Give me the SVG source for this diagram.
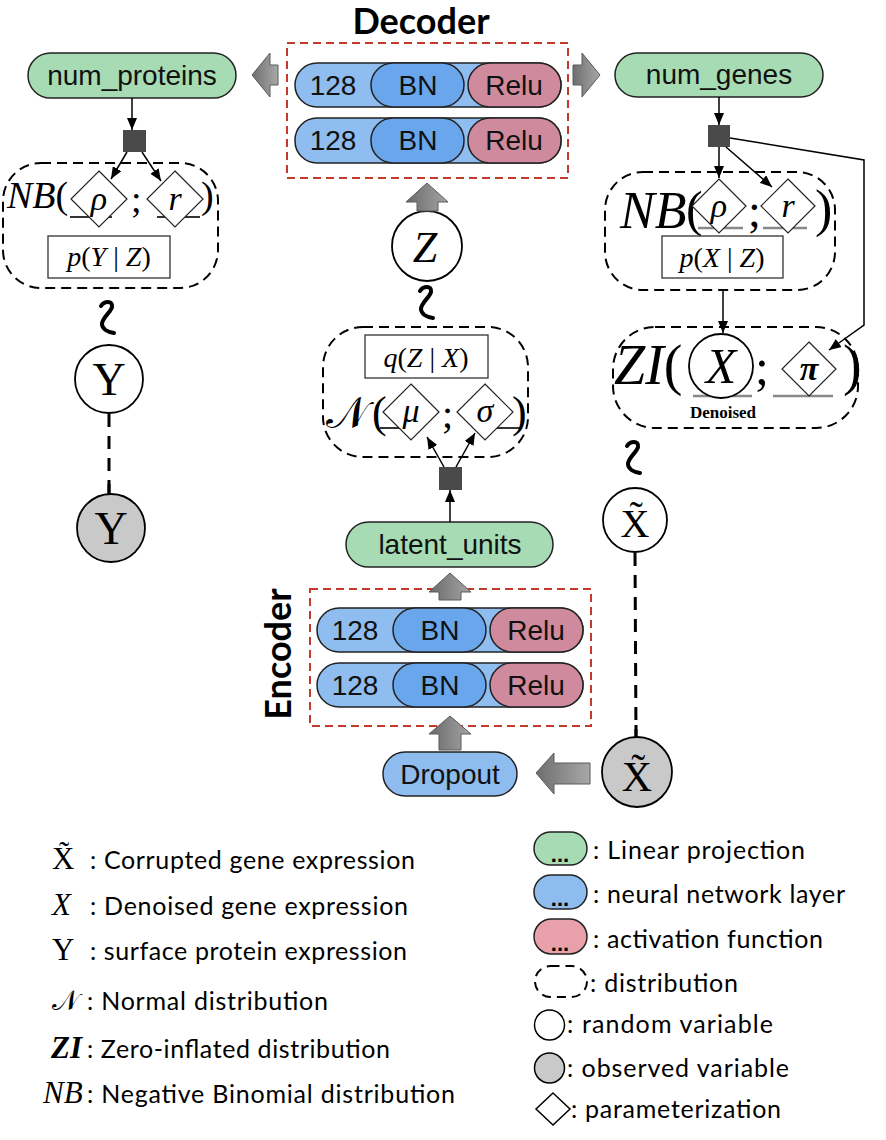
<svg xmlns="http://www.w3.org/2000/svg" width="886" height="1140" viewBox="0 0 886 1140">
<defs>
<linearGradient id="gh" x1="0" y1="0" x2="1" y2="0"><stop offset="0" stop-color="#6e6e6e"/><stop offset="1" stop-color="#a8a8a8"/></linearGradient>
<linearGradient id="gv" x1="0" y1="0" x2="1" y2="0"><stop offset="0" stop-color="#6a6a6a"/><stop offset="1" stop-color="#a4a4a4"/></linearGradient>
<marker id="ah" markerUnits="userSpaceOnUse" markerWidth="12" markerHeight="10" refX="12" refY="5" orient="auto"><path d="M0,0 L12,5 L0,10 z" fill="#000"/></marker>
<path id="wr" d="M0,5 C3,0 12,-1 11,6 C10,11 1,17 1,23 C1,28 7,31 13,32"/>
<style>
.pill{stroke:#222;stroke-width:1.5}
.green{fill:#a6dbb3}
.outer{fill:#8fbdf0}
.bn{fill:#6aa6ec}
.relu{fill:#cf8a9e}
.lblue{fill:#8ebcef}
.lpink{fill:#e8a1ab}
.sans{font-family:"Liberation Sans",Arial,sans-serif;font-size:28px;fill:#111}
.title{font-family:Lato,"Open Sans",sans-serif;font-weight:bold;font-size:36px;fill:#000}
.red{fill:none;stroke:#c43a2a;stroke-width:2;stroke-dasharray:8 5}
.dist{fill:none;stroke:#000;stroke-width:2;stroke-dasharray:10 6}
.dia{fill:#fff;stroke:#222;stroke-width:1.2}
.box{fill:#fff;stroke:#333;stroke-width:1.3}
.m{font-family:"Liberation Serif","Times New Roman",serif;fill:#000}
.cal{font-family:"DejaVu Serif","DejaVu Sans","Noto Sans",serif;fill:#000}
.i{font-style:italic}
.up{font-style:normal}
.ul{stroke:#888;stroke-width:2.5}
.uld{stroke:#333;stroke-width:2}
.sq{fill:#4a4a4a}
.rv{fill:#fff;stroke:#000;stroke-width:1.8}
.ov{fill:#c9c9c9;stroke:#000;stroke-width:1.8}
.edge{fill:none;stroke:#000;stroke-width:1.5}
.tw{fill:none;stroke:#000;stroke-width:4;stroke-linecap:round}
.dl{fill:none;stroke:#000;stroke-width:3;stroke-dasharray:13 9}
.blk{stroke:#5a5a5a;stroke-width:1}
.leg{font-family:Lato,"Open Sans",sans-serif;font-size:25px;fill:#000}
.dots{font-family:"Liberation Sans",Arial,sans-serif;font-size:22px;font-weight:bold;fill:#000}
</style>
</defs>

<g id="decoder">
<text class="title" x="421" y="34" text-anchor="middle">Decoder</text>
<rect class="red" x="287" y="43" width="281" height="135"/>
<rect class="pill outer" x="295" y="63" width="266" height="44" rx="22"/>
<rect class="pill bn" x="371" y="63" width="93" height="44" rx="22"/>
<rect class="pill relu" x="468" y="63" width="93" height="44" rx="22"/>
<text class="sans" x="333" y="95" text-anchor="middle">128</text>
<text class="sans" x="418" y="95" text-anchor="middle">BN</text>
<text class="sans" x="514" y="95" text-anchor="middle">Relu</text>
<rect class="pill outer" x="295" y="118" width="266" height="45" rx="22"/>
<rect class="pill bn" x="371" y="118" width="93" height="45" rx="22"/>
<rect class="pill relu" x="468" y="118" width="93" height="45" rx="22"/>
<text class="sans" x="333" y="150" text-anchor="middle">128</text>
<text class="sans" x="418" y="150" text-anchor="middle">BN</text>
<text class="sans" x="514" y="150" text-anchor="middle">Relu</text>
</g>

<g id="num_proteins">
<rect class="pill green" x="28" y="53" width="208" height="45" rx="22.5"/>
<text class="sans" x="132" y="85" text-anchor="middle">num_proteins</text>
</g>
<g id="num_genes">
<rect class="pill green" x="615" y="53" width="208" height="44" rx="22"/>
<text class="sans" x="719" y="84" text-anchor="middle">num_genes</text>
</g>

<g id="sq_left"><rect class="sq" x="123" y="130" width="23" height="22"/></g>
<g id="sq_right"><rect class="sq" x="708" y="125" width="22" height="22"/></g>
<g id="sq_center"><rect class="sq" x="439" y="467" width="23" height="23"/></g>

<g id="nb_protein">
<rect class="dist" x="3" y="163" width="215" height="125" rx="38"/>
<text class="m i" x="7" y="208" font-size="38">NB<tspan class="up">(</tspan></text>
<line class="uld" x1="70" y1="217" x2="112" y2="217"/>
<line class="uld" x1="157" y1="217" x2="200" y2="217"/>
<polygon class="dia" points="99,171 127,199 99,227 71,199"/>
<polygon class="dia" points="175,171 203,199 175,227 147,199"/>
<text class="m i" x="99" y="210" font-size="34" text-anchor="middle">ρ</text>
<text class="m i" x="175" y="210" font-size="34" text-anchor="middle">r</text>
<text class="m" x="131" y="212" font-size="38">;</text>
<text class="m" x="201" y="208" font-size="38">)</text>
<rect class="box" x="48" y="236" width="122" height="42"/>
<text class="m i" x="109" y="266" font-size="28" text-anchor="middle">p<tspan class="up">(</tspan>Y<tspan class="up"> | </tspan>Z<tspan class="up">)</tspan></text>
</g>

<g id="nb_gene">
<rect class="dist" x="605" y="172" width="230" height="118" rx="38"/>
<text class="m i" x="620" y="228" font-size="52">NB</text>
<text class="m" x="686" y="226" font-size="50">(</text>
<line class="ul" x1="698" y1="228" x2="743" y2="228"/>
<line class="ul" x1="763" y1="228" x2="807" y2="228"/>
<polygon class="dia" points="719,179 746,206 719,233 692,206"/>
<polygon class="dia" points="788,179 815,206 788,233 761,206"/>
<text class="m i" x="719" y="217" font-size="34" text-anchor="middle">ρ</text>
<text class="m i" x="788" y="217" font-size="34" text-anchor="middle">r</text>
<text class="m" x="748" y="226" font-size="46">;</text>
<text class="m" x="815" y="226" font-size="52">)</text>
<rect class="box" x="662" y="236" width="121" height="42"/>
<text class="m i" x="722" y="267" font-size="28" text-anchor="middle">p<tspan class="up">(</tspan>X<tspan class="up"> | </tspan>Z<tspan class="up">)</tspan></text>
</g>

<g id="zi_dist">
<rect class="dist" x="613" y="327" width="245" height="101" rx="42"/>
<text class="m i" x="614" y="384" font-size="56">ZI<tspan class="up">(</tspan></text>
<line class="ul" x1="693" y1="396" x2="752" y2="396"/>
<line class="ul" x1="773" y1="396" x2="833" y2="396"/>
<circle class="rv" cx="721" cy="366" r="32" fill="none"/>
<text class="m i" x="721" y="383" font-size="50" text-anchor="middle">X</text>
<text class="m" x="755" y="384" font-size="50">;</text>
<polygon class="dia" points="809,342 836,369 809,396 782,369"/>
<text class="m i" x="809" y="380" font-size="34" font-weight="bold" text-anchor="middle">π</text>
<text class="m" x="843" y="384" font-size="56">)</text>
<text class="m" x="723" y="418" font-size="17" font-weight="bold" text-anchor="middle">Denoised</text>
</g>

<g id="q_dist">
<rect class="dist" x="323" y="327" width="205" height="130" rx="40"/>
<rect class="box" x="365" y="335" width="123" height="43"/>
<text class="m i" x="426" y="367" font-size="28" text-anchor="middle">q<tspan class="up">(</tspan>Z<tspan class="up"> | </tspan>X<tspan class="up">)</tspan></text>
<text class="cal" x="326" y="428" font-size="44">𝒩</text>
<text class="m" x="372" y="427" font-size="44">(</text>
<line class="uld" x1="380" y1="428" x2="400" y2="428"/>
<line class="uld" x1="497" y1="428" x2="520" y2="428"/>
<polygon class="dia" points="411,384 439,412 411,440 383,412"/>
<polygon class="dia" points="485,384 513,412 485,440 457,412"/>
<text class="m i" x="411" y="422" font-size="34" text-anchor="middle">μ</text>
<text class="m i" x="485" y="422" font-size="34" text-anchor="middle">σ</text>
<text class="m" x="442" y="428" font-size="40">;</text>
<text class="m" x="512" y="427" font-size="44">)</text>
</g>

<g id="Z"><circle class="rv" cx="427" cy="246" r="35"/><text class="m i" x="425" y="262" font-size="44" text-anchor="middle">Z</text></g>
<g id="Y"><circle class="rv" cx="109" cy="379" r="34"/><text class="m" x="109" y="395" font-size="46" text-anchor="middle">Y</text></g>
<g id="Y_obs"><circle class="ov" cx="111" cy="528" r="34"/><text class="m" x="111" y="544" font-size="46" text-anchor="middle">Y</text></g>
<g id="Xt"><circle class="rv" cx="635" cy="520" r="32"/><text class="m" x="635" y="537" font-size="40" text-anchor="middle">X̃</text></g>
<g id="Xt_obs"><circle class="ov" cx="637" cy="772" r="35"/><text class="m" x="637" y="791" font-size="42" text-anchor="middle">X̃</text></g>

<g id="latent_units">
<rect class="pill green" x="346" y="522" width="207" height="45" rx="22.5"/>
<text class="sans" x="450" y="554" text-anchor="middle">latent_units</text>
</g>

<g id="encoder">
<text class="title" transform="translate(291,654) rotate(-90)" text-anchor="middle">Encoder</text>
<rect class="red" x="310" y="589" width="281" height="137"/>
<rect class="pill outer" x="317" y="608" width="266" height="44" rx="22"/>
<rect class="pill bn" x="393" y="608" width="93" height="44" rx="22"/>
<rect class="pill relu" x="490" y="608" width="93" height="44" rx="22"/>
<text class="sans" x="355" y="640" text-anchor="middle">128</text>
<text class="sans" x="440" y="640" text-anchor="middle">BN</text>
<text class="sans" x="536" y="640" text-anchor="middle">Relu</text>
<rect class="pill outer" x="317" y="663" width="266" height="44" rx="22"/>
<rect class="pill bn" x="393" y="663" width="93" height="44" rx="22"/>
<rect class="pill relu" x="490" y="663" width="93" height="44" rx="22"/>
<text class="sans" x="355" y="695" text-anchor="middle">128</text>
<text class="sans" x="440" y="695" text-anchor="middle">BN</text>
<text class="sans" x="536" y="695" text-anchor="middle">Relu</text>
</g>

<g id="dropout">
<rect class="pill lblue" x="383" y="752" width="134" height="44" rx="22"/>
<text class="sans" x="450" y="784" text-anchor="middle">Dropout</text>
</g>

<g id="connectors">
<polygon class="blk" fill="url(#gh)" points="252,75 270,53 270,65 278,65 278,85 270,85 270,97"/>
<polygon class="blk" fill="url(#gh)" points="600,75 582,53 582,65 573,65 573,85 582,85 582,97"/>
<polygon class="blk" fill="url(#gv)" points="427,183 448,202 438,202 438,211 417,211 417,202 406,202"/>
<polygon class="blk" fill="url(#gv)" points="450,573 471,592 461,592 461,600 439,600 439,592 429,592"/>
<polygon class="blk" fill="url(#gv)" points="450,716 471,734 461,734 461,750 439,750 439,734 429,734"/>
<polygon class="blk" fill="url(#gh)" points="536,773 554,753 554,763 590,763 590,784 554,784 554,794"/>
<line class="edge" x1="132" y1="98" x2="132" y2="130" marker-end="url(#ah)"/>
<line class="edge" x1="127" y1="152" x2="111" y2="179" marker-end="url(#ah)"/>
<line class="edge" x1="142" y1="152" x2="161" y2="181" marker-end="url(#ah)"/>
<line class="edge" x1="719" y1="97" x2="719" y2="125" marker-end="url(#ah)"/>
<line class="edge" x1="719" y1="147" x2="719" y2="178" marker-end="url(#ah)"/>
<line class="edge" x1="726" y1="147" x2="772" y2="187" marker-end="url(#ah)"/>
<polyline class="edge" points="730,138 864,160 864,325 829,350" marker-end="url(#ah)"/>
<line class="edge" x1="723" y1="290" x2="723" y2="333" marker-end="url(#ah)"/>
<line class="edge" x1="450" y1="522" x2="450" y2="490" marker-end="url(#ah)"/>
<line class="edge" x1="444" y1="467" x2="427" y2="437" marker-end="url(#ah)"/>
<line class="edge" x1="456" y1="467" x2="475" y2="433" marker-end="url(#ah)"/>
<use href="#wr" class="tw" transform="translate(101,301)"/>
<use href="#wr" class="tw" transform="translate(420,286)"/>
<use href="#wr" class="tw" transform="translate(627,441)"/>
<line class="dl" x1="109" y1="414" x2="109" y2="494"/>
<line x1="109" y1="484" x2="109" y2="494" stroke="#000" stroke-width="3"/>
<line class="dl" x1="635" y1="553" x2="636" y2="737"/>
<line x1="636" y1="725" x2="636" y2="737" stroke="#000" stroke-width="3"/>
</g>

<g id="legend_left">
<text class="m" x="52" y="869" font-size="31">X̃</text>
<text class="leg" x="90" y="869" textLength="325">: Corrupted gene expression</text>
<text class="m i" x="52" y="915" font-size="31">X</text>
<text class="leg" x="90" y="915" textLength="318">: Denoised gene expression</text>
<text class="m" x="52" y="960" font-size="31">Y</text>
<text class="leg" x="90" y="960" textLength="317">: surface protein expression</text>
<text class="cal" x="52" y="1010" font-size="28">𝒩</text>
<text class="leg" x="87" y="1010" textLength="241">: Normal distribution</text>
<text class="m i" x="51" y="1058" font-size="31" font-weight="bold">ZI</text>
<text class="leg" x="87" y="1058" textLength="303">: Zero-inflated distribution</text>
<text class="m i" x="43" y="1103" font-size="31">NB</text>
<text class="leg" x="87" y="1103" textLength="368">: Negative Binomial distribution</text>
</g>

<g id="legend_right">
<rect class="pill green" x="534" y="832" width="53" height="33" rx="16.5"/>
<text class="dots" x="560" y="862" text-anchor="middle">...</text>
<text class="leg" x="593" y="859" textLength="212">: Linear projection</text>
<rect class="pill lblue" x="534" y="875" width="53" height="34" rx="17"/>
<text class="dots" x="560" y="906" text-anchor="middle">...</text>
<text class="leg" x="593" y="903" textLength="252">: neural network layer</text>
<rect class="pill lpink" x="534" y="919" width="53" height="35" rx="17.5"/>
<text class="dots" x="560" y="951" text-anchor="middle">...</text>
<text class="leg" x="593" y="948" textLength="230">: activation function</text>
<rect x="535" y="966" width="52" height="31" rx="15.5" fill="none" stroke="#000" stroke-width="2" stroke-dasharray="9 6"/>
<text class="leg" x="590" y="992" textLength="148">: distribution</text>
<circle cx="549.5" cy="1025" r="15" fill="#fff" stroke="#000" stroke-width="1.5"/>
<text class="leg" x="567" y="1033" textLength="206">: random variable</text>
<circle cx="549.5" cy="1068" r="15" fill="#c9c9c9" stroke="#000" stroke-width="1.5"/>
<text class="leg" x="567" y="1077" textLength="222">: observed variable</text>
<polygon points="553,1093 570,1109 553,1125 536,1109" fill="#fff" stroke="#000" stroke-width="1.5"/>
<text class="leg" x="571" y="1118" textLength="210">: parameterization</text>
</g>
</svg>
